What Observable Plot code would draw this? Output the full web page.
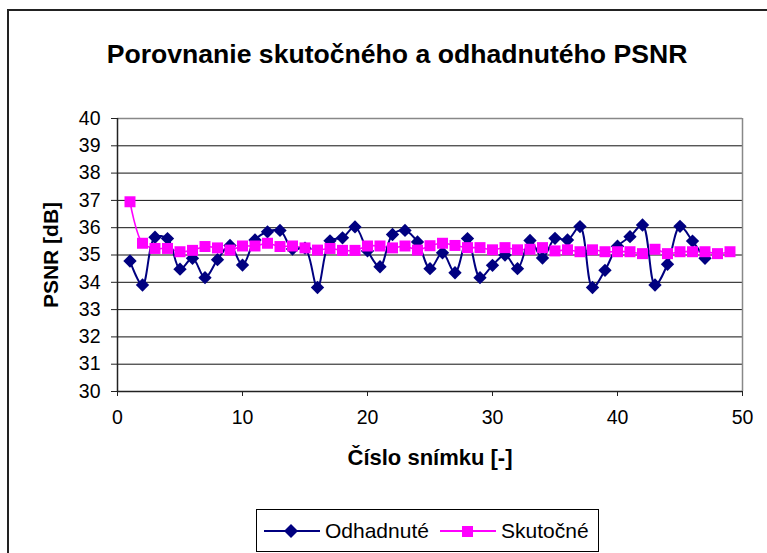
<!DOCTYPE html>
<html>
<head>
<meta charset="utf-8">
<script src="https://cdn.jsdelivr.net/npm/d3@7"></script>
<script src="https://cdn.jsdelivr.net/npm/@observablehq/plot@0.6"></script>
<style>
  html, body { margin: 0; padding: 0; background: #fff; }
  #wrap { position: relative; width: 767px; height: 553px; overflow: hidden; font-family: Arial, "Liberation Sans", sans-serif; }
  #frame { position: absolute; left: 7px; top: 9px; width: 900px; height: 700px; border-left: 2px solid #222; border-top: 2px solid #222; }
  #chart { position: absolute; left: 0; top: 0; }
  #legend { position: absolute; left: 256px; top: 509px; width: 343px; height: 43px; border: 1px solid #000; box-sizing: border-box; background: #fff; }
  #legend .item { position: absolute; top: 0; height: 41px; display: flex; align-items: center; font-size: 21px; color: #000; }
  #legend svg { margin-right: 5px; }
</style>
</head>
<body>
<div id="wrap">
  <div id="frame"></div>
  <div id="chart"></div>
  <div id="legend"></div>
</div>
<script>
const title = "Porovnanie skutočného a odhadnutého PSNR";
const xLabel = "Číslo snímku [-]";
const yLabel = "PSNR [dB]";
const seriesNames = ["Odhadnuté", "Skutočné"];
const seriesColors = ["#000080", "#FF00FF"];

const xTicks = [0, 10, 20, 30, 40, 50];
const yTicks = [30, 31, 32, 33, 34, 35, 36, 37, 38, 39, 40];

const odhadnute = [
  34.78, 33.9, 35.65, 35.6, 34.48, 34.88, 34.17, 34.83, 35.35, 34.63,
  35.55, 35.85, 35.9, 35.22, 35.25, 33.81, 35.52, 35.63, 36.03, 35.15,
  34.57, 35.75, 35.9, 35.48, 34.5, 35.08, 34.35, 35.6, 34.17, 34.62,
  35.0, 34.5, 35.53, 34.89, 35.61, 35.55, 36.04, 33.81, 34.44, 35.32,
  35.67, 36.1, 33.9, 34.66, 36.05, 35.51, 34.88
];
const skutocne = [
  36.95, 35.43, 35.24, 35.24, 35.12, 35.17, 35.31, 35.26, 35.18, 35.33,
  35.33, 35.43, 35.31, 35.33, 35.26, 35.18, 35.24, 35.17, 35.17, 35.33,
  35.33, 35.26, 35.33, 35.18, 35.34, 35.43, 35.35, 35.27, 35.27, 35.19,
  35.27, 35.19, 35.21, 35.27, 35.15, 35.19, 35.12, 35.19, 35.12, 35.12,
  35.12, 35.05, 35.21, 35.05, 35.12, 35.12, 35.12, 35.05, 35.12
];

const odhData = odhadnute.map((v, i) => ({x: i + 1, y: v}));
const skuData = skutocne.map((v, i) => ({x: i + 1, y: v}));
const gridY = yTicks.filter(v => v > 30 && v < 40);

const chart = Plot.plot({
  width: 767,
  height: 553,
  marginLeft: 117,
  marginRight: 25,
  marginTop: 118,
  marginBottom: 162,
  style: {fontFamily: "Arial, 'Liberation Sans', sans-serif", fontSize: "19px", color: "#000", background: "transparent"},
  x: {domain: [0, 50]},
  y: {domain: [30, 40]},
  marks: [
    Plot.ruleY(gridY, {stroke: "#111", strokeWidth: 1}),
    Plot.ruleY([40], {stroke: "#888", strokeWidth: 1.5}),
    Plot.ruleX([50], {stroke: "#888", strokeWidth: 1.5}),
    Plot.ruleX([0], {stroke: "#222", strokeWidth: 1.5}),
    Plot.ruleY([30], {stroke: "#222", strokeWidth: 1.5}),
    Plot.axisX({ticks: xTicks, tickSize: 5, tickPadding: 14, tickFormat: d3.format("d"), label: null, stroke: "#222", fontSize: 19.5}),
    Plot.axisY({ticks: yTicks, tickSize: 6, tickPadding: 11, tickFormat: d3.format("d"), label: null, stroke: "#222", fontSize: 19.5}),
    Plot.line(skuData, {x: "x", y: "y", stroke: seriesColors[1], strokeWidth: 1.6, curve: "catmull-rom"}),
    Plot.line(odhData, {x: "x", y: "y", stroke: seriesColors[0], strokeWidth: 2, curve: "catmull-rom"}),
    Plot.dot(odhData, {x: "x", y: "y", symbol: "diamond2", r: 6, fill: seriesColors[0], stroke: "none"}),
    Plot.dot(skuData, {x: "x", y: "y", symbol: "square", r: 6.2, fill: seriesColors[1], stroke: "none"}),
    Plot.text([title], {frameAnchor: "top", textAnchor: "middle", dx: -33, dy: -74, fontSize: 26.6, fontWeight: "bold", fill: "#000"}),
    Plot.text([xLabel], {frameAnchor: "bottom", textAnchor: "middle", dy: 73, fontSize: 22, fontWeight: "bold", fill: "#000", letterSpacing: "0.6px"}),
    Plot.text([yLabel], {frameAnchor: "left", textAnchor: "middle", dx: -66, rotate: -90, fontSize: 21, fontWeight: "bold", fill: "#000"})
  ]
});
document.getElementById("chart").appendChild(chart);

// legend
const legend = document.getElementById("legend");
const legendItems = [
  {name: seriesNames[0], color: seriesColors[0], shape: "diamond", left: 7},
  {name: seriesNames[1], color: seriesColors[1], shape: "square", left: 183}
];
legendItems.forEach(it => {
  const div = document.createElement("div");
  div.className = "item";
  div.style.left = it.left + "px";
  const s = d3.create("svg").attr("width", 56).attr("height", 20);
  s.append("line").attr("x1", 0).attr("x2", 56).attr("y1", 10).attr("y2", 10)
    .attr("stroke", it.color).attr("stroke-width", 2);
  if (it.shape === "diamond") {
    s.append("path").attr("d", "M27,3L34,10L27,17L20,10Z").attr("fill", it.color);
  } else {
    s.append("rect").attr("x", 22).attr("y", 5).attr("width", 11).attr("height", 11).attr("fill", it.color);
  }
  div.appendChild(s.node());
  const t = document.createElement("span");
  t.textContent = it.name;
  div.appendChild(t);
  legend.appendChild(div);
});
</script>
</body>
</html>
